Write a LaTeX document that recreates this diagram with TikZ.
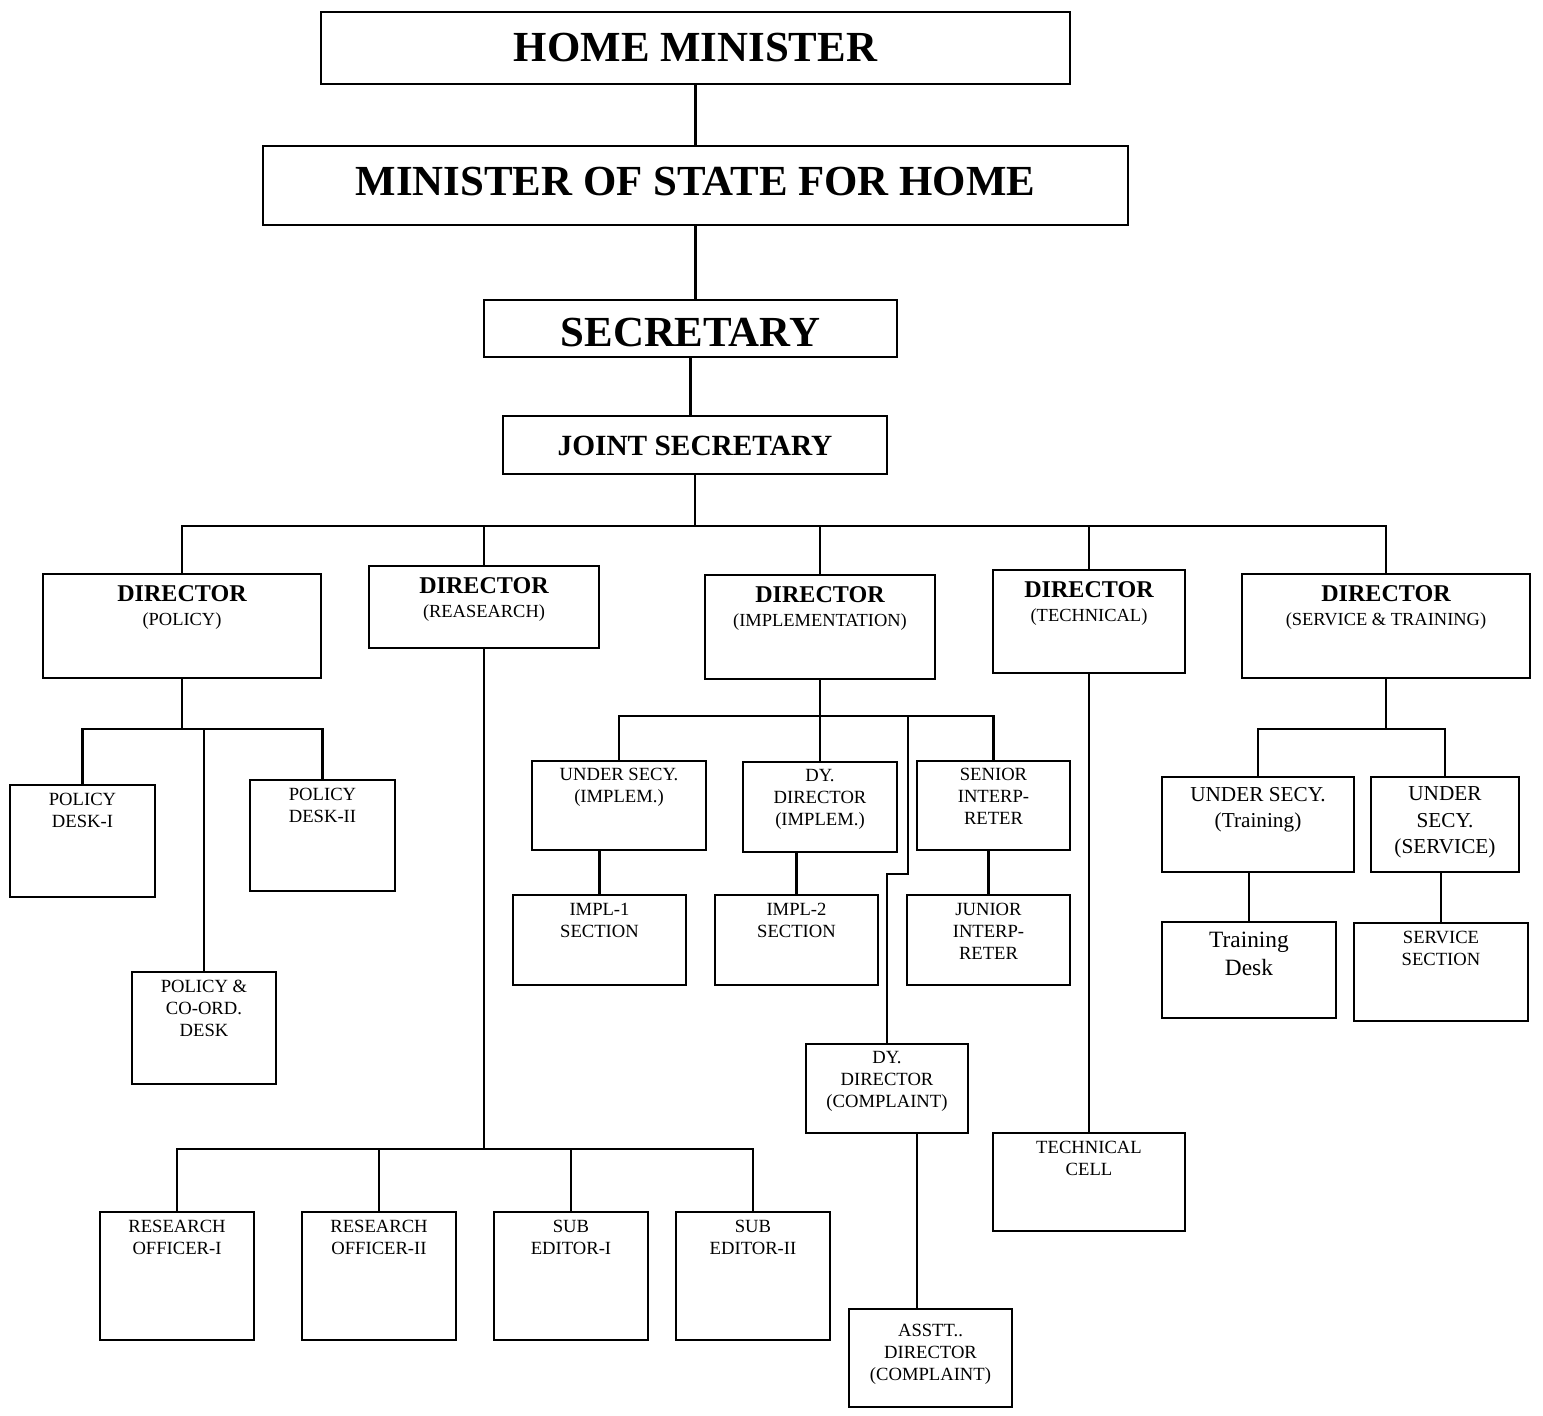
\documentclass[tikz,border=0pt]{standalone}
\usepackage{fontspec}
\setmainfont{Liberation Serif}
\usetikzlibrary{positioning}

\newcommand{\dirtop}{{\fontsize{13.7}{13.6}\selectfont\bfseries DIRECTOR}}

\begin{document}
\begin{tikzpicture}[
    x=0.02cm, y=-0.02cm,
    line width=1.15pt,
    box/.style 2 args={rectangle, draw, inner sep=0pt, minimum width=#1*0.02cm, minimum height=#2*0.02cm},
    hd/.style={anchor=north, align=center, inner sep=0pt, yshift=-#1*0.02cm},
    big/.style={font=\fontsize{24.4}{29}\selectfont\bfseries},
    jsf/.style={font=\fontsize{16.7}{20}\selectfont\bfseries},
    dirf/.style={font=\fontsize{10.5}{13.6}\selectfont},
    sm/.style={font=\fontsize{10.6}{12.5}\selectfont},
    md/.style={font=\fontsize{12.1}{15}\selectfont},
    lg/.style={font=\fontsize{13.3}{15.9}\selectfont}
]
\useasboundingbox (0,0) rectangle (1543,1416);

% Top of the chain
\node[box={749}{72}, label={[hd=21,big]north:HOME MINISTER}] (hm) at (695.5,48) {};
\node[box={865}{79}, label={[hd=21,big]north:MINISTER OF STATE FOR HOME}] (mos) at (695.5,185.5) {};
\node[box={413}{57}, label={[hd=18,big]north:SECRETARY}] (sec) at (690.5,328.5) {};
\node[box={384}{58}, label={[hd=20,jsf]north:JOINT SECRETARY}] (js) at (695,445) {};

\draw (hm) -- (mos);
\draw (mos.south) -- (mos.south |- sec.north);
\draw (sec.south) -- (sec.south |- js.north);

% Directors
\coordinate (bus) at (695,526);
\node[box={278}{104}, label={[hd=12,dirf]north:{\dirtop\\(POLICY)}}] (dpol) at (182,626) {};
\node[box={230}{82}, label={[hd=12,dirf]north:{\dirtop\\(REASEARCH)}}] (dres) at (484,607) {};
\node[box={230}{104}, label={[hd=12,dirf]north:{\dirtop\\(IMPLEMENTATION)}}] (dimp) at (820,627) {};
\node[box={192}{103}, label={[hd=12,dirf]north:{\dirtop\\(TECHNICAL)}}] (dtec) at (1089,621.5) {};
\node[box={288}{104}, label={[hd=12,dirf]north:{\dirtop\\(SERVICE \& TRAINING)}}] (dst) at (1386,626) {};

\draw (js.south) -- (js.south |- bus);
\draw (dpol.north) |- (bus) -| (dst.north);
\foreach \n in {dres,dimp,dtec}
    \draw (\n.north) -- (\n.north |- bus);

% Policy desks
\coordinate (pbus) at (182,729);
\node[box={145}{112}, label={[hd=8,sm]north:{POLICY\\DESK-I}}] (pd1) at (82.5,841) {};
\node[box={145}{111}, label={[hd=8,sm]north:{POLICY\\DESK-II}}] (pd2) at (322.5,835.5) {};
\node[box={144}{112}, label={[hd=8,sm]north:{POLICY \&\\CO-ORD.\\DESK}}] (pcd) at (204,1028) {};

\draw (dpol.south) -- (pbus);
\draw (pd1.north) |- (pd2.north |- pbus) -- (pd2.north);
\draw (pcd.north) -- (pcd.north |- pbus);

% Research
\coordinate (rbus) at (484,1149);
\node[box={154}{128}, label={[hd=8,sm]north:{RESEARCH\\OFFICER-I}}] (ro1) at (177,1276) {};
\node[box={154}{128}, label={[hd=8,sm]north:{RESEARCH\\OFFICER-II}}] (ro2) at (379,1276) {};
\node[box={154}{128}, label={[hd=8,sm]north:{SUB\\EDITOR-I}}] (se1) at (571,1276) {};
\node[box={154}{128}, label={[hd=8,sm]north:{SUB\\EDITOR-II}}] (se2) at (753,1276) {};

\draw (dres.south) -- (rbus);
\draw (ro1.north) |- (rbus) -| (se2.north);
\foreach \n in {ro2,se1}
    \draw (\n.north) -- (\n.north |- rbus);

% Implementation
\coordinate (ibus) at (820,716);
\coordinate (cjog) at (908,874);
\node[box={174}{89}, label={[hd=7,sm]north:{UNDER SECY.\\(IMPLEM.)}}] (usi) at (619,805.5) {};
\node[box={154}{90}, label={[hd=7,sm]north:{DY.\\DIRECTOR\\(IMPLEM.)}}] (ddi) at (820,807) {};
\node[box={153}{89}, label={[hd=7,sm]north:{SENIOR\\INTERP-\\RETER}}] (sint) at (993.5,805.5) {};
\node[box={173}{90}, label={[hd=8,sm]north:{IMPL-1\\SECTION}}] (im1) at (599.5,940) {};
\node[box={163}{90}, label={[hd=8,sm]north:{IMPL-2\\SECTION}}] (im2) at (796.5,940) {};
\node[box={163}{90}, label={[hd=8,sm]north:{JUNIOR\\INTERP-\\RETER}}] (jint) at (988.5,940) {};
\node[box={162}{89}, label={[hd=7,sm]north:{DY.\\DIRECTOR\\(COMPLAINT)}}] (ddc) at (887,1088.5) {};
\node[box={163}{98}, label={[hd=15,sm]north:{ASSTT..\\DIRECTOR\\(COMPLAINT)}}] (asd) at (930.5,1358) {};

\draw (dimp.south) -- (ibus);
\draw (usi.north) |- (ibus) -| (sint.north);
\draw (ddi.north) -- (ibus);
\draw (im1.north) -- (im1.north |- usi.south);
\draw (im2.north) -- (im2.north |- ddi.south);
\draw (jint.north) -- (jint.north |- sint.south);
\draw (cjog |- ibus) -- (cjog) -| (ddc.north);
\draw (ddc.south -| 917,0) -- (asd.north -| 917,0);

% Technical
\node[box={192}{98}, label={[hd=8,sm]north:{TECHNICAL\\CELL}}] (tcell) at (1089,1182) {};
\draw (dtec) -- (tcell);

% Service and training
\coordinate (sbus) at (1386,729);
\node[box={192}{95}, label={[hd=10,md]north:{UNDER SECY.\\(Training)}}] (ust) at (1258,824.5) {};
\node[box={148}{95}, label={[hd=10,md]north:{UNDER\\SECY.\\(SERVICE)}}] (uss) at (1445,824.5) {};
\node[box={174}{96}, label={[hd=10,lg]north:{Training\\Desk}}] (tdesk) at (1249,970) {};
\node[box={174}{98}, label={[hd=8,sm]north:{SERVICE\\SECTION}}] (ssec) at (1441,972) {};

\draw (dst.south) -- (sbus);
\draw (ust.north) |- (sbus) -| (uss.north);
\draw (tdesk.north) -- (tdesk.north |- ust.south);
\draw (ssec.north) -- (ssec.north |- uss.south);

\end{tikzpicture}
\end{document}
